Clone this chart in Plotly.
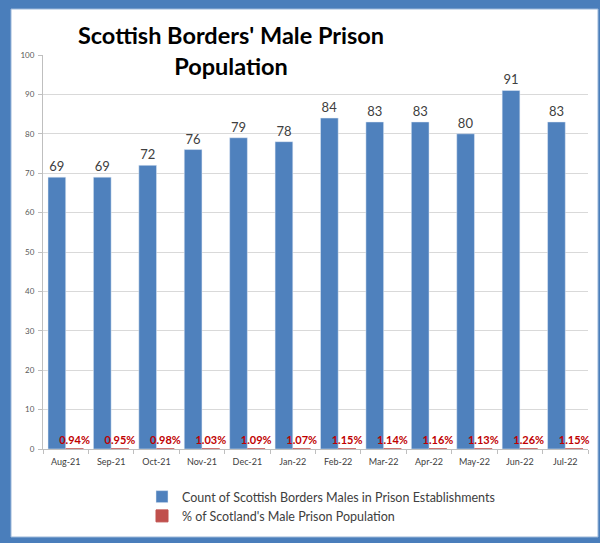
import plotly.graph_objects as go

months = ["Aug-21", "Sep-21", "Oct-21", "Nov-21", "Dec-21", "Jan-22",
          "Feb-22", "Mar-22", "Apr-22", "May-22", "Jun-22", "Jul-22"]
count = [69, 69, 72, 76, 79, 78, 84, 83, 83, 80, 91, 83]
pct = [0.94, 0.95, 0.98, 1.03, 1.09, 1.07, 1.15, 1.14, 1.16, 1.13, 1.26, 1.15]

blue = "#4f81bd"
red = "#c0504d"
frame = "#4a7ebb"

# plot area in pixels: x 43..588, y 55 (100) .. 449 (0)
def px(x):
    return (x - 43) / 545

def py(y):
    return (449 - y) / 394

fig = go.Figure()
fig.add_trace(go.Bar(
    x=months, y=count,
    name="Count of Scottish Borders Males in Prison Establishments",
    marker_color=blue,
    text=count, textposition="outside", constraintext="none",
    textfont=dict(size=13, color="#404040", family="Lato"),
    cliponaxis=False,
))
# excel plots the share as a fraction, so the bar is almost flat
fig.add_trace(go.Bar(
    x=months, y=[p / 100 for p in pct],
    name="% of Scotland's Male Prison Population",
    marker=dict(color=red, line=dict(color=red, width=1)),
    text=[f"<b>{p:.2f}%</b>" for p in pct], textposition="outside",
    constraintext="none",
    textfont=dict(size=11, color="#c00000", family="Lato"),
    cliponaxis=False,
))

fig.update_layout(
    width=600, height=543,
    margin=dict(l=43, r=12, t=55, b=94),
    paper_bgcolor=frame,
    plot_bgcolor="white",
    barmode="group",
    bargap=0.22,
    bargroupgap=0,
    font=dict(family="Lato", color="#404040"),
    title=dict(
        text="<b>Scottish Borders' Male Prison<br>Population</b>",
        x=0.385, xanchor="center", xref="container",
        y=0.9185, yanchor="top", yref="container",
        font=dict(size=23.5, color="black", family="Lato"),
    ),
    legend=dict(
        x=px(142), y=py(482), xanchor="left", yanchor="top",
        orientation="v", font=dict(size=12.5, color="#404040"),
        bgcolor="rgba(0,0,0,0)", itemwidth=30, tracegroupgap=0,
    ),
    showlegend=True,
    shapes=[dict(
        type="rect", xref="paper", yref="paper", layer="below",
        x0=px(11), x1=px(598), y0=py(537), y1=py(9),
        fillcolor="white", line=dict(color="#9bb7d9", width=1),
    )],
)
fig.update_yaxes(
    range=[0, 100], dtick=10,
    showgrid=True, gridcolor="#d9d9d9",
    showline=True, linecolor="#bfbfbf",
    ticks="outside", ticklen=4, tickcolor="#bfbfbf",
    tickfont=dict(size=8, color="#595959"), ticklabelstandoff=2,
    zeroline=False,
)
fig.update_xaxes(
    showline=True, linecolor="#bfbfbf",
    ticks="outside", ticklen=4, tickcolor="#bfbfbf", tickson="boundaries",
    tickfont=dict(size=9, color="#404040"), ticklabelstandoff=4,
)

fig.write_html("out.html", config={"displayModeBar": False},
               post_script="document.body.style.margin='0';")
